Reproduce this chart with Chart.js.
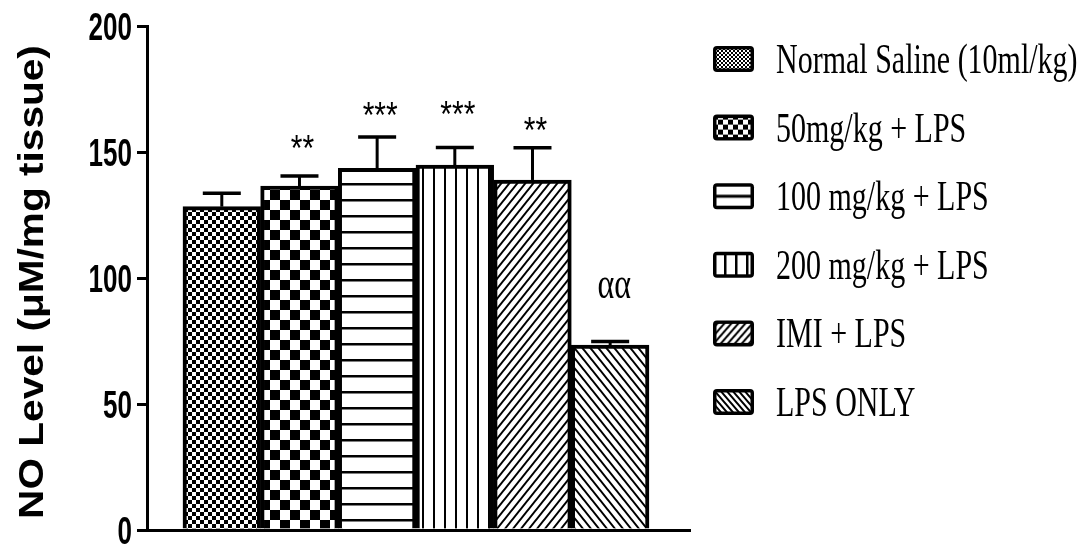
<!DOCTYPE html>
<html>
<head>
<meta charset="utf-8">
<title>NO Level</title>
<script src="https://cdn.jsdelivr.net/npm/chart.js@4.4.1/dist/chart.umd.min.js"></script>
<style>
  html, body { margin: 0; padding: 0; background: #fff; }
  canvas { display: block; }
</style>
</head>
<body>
<canvas id="chart" width="1091" height="544"></canvas>
<script>
// Groups, mean NO level and upper SEM for each group
const categories = ['Normal Saline (10ml/kg)', '50mg/kg + LPS', '100 mg/kg + LPS', '200 mg/kg + LPS', 'IMI + LPS', 'LPS ONLY'];
const noLevel = [128.3, 136.5, 143.5, 144.8, 138.9, 73.4];
const semUpper = [5.3, 4.0, 12.5, 7.0, 12.8, 1.4];
const sigLabels = ['', '**', '***', '***', '**', 'αα'];
const yTicks = [0, 50, 100, 150, 200];
const yTitle = 'NO Level (μM/mg tissue)';

const canvas = document.getElementById('chart');
const ctx = canvas.getContext('2d');

// ---- fill patterns -------------------------------------------------------
function makeTile(w, h, paint) {
  const c = document.createElement('canvas');
  c.width = Math.ceil(w); c.height = Math.ceil(h);
  const g = c.getContext('2d');
  g.fillStyle = '#fff'; g.fillRect(0, 0, c.width, c.height);
  g.fillStyle = '#000'; g.strokeStyle = '#000';
  paint(g, c.width, c.height);
  return ctx.createPattern(c, 'repeat');
}
const checker = cell => makeTile(cell * 2, cell * 2, g => {
  g.fillRect(0, 0, cell, cell); g.fillRect(cell, cell, cell, cell);
});
const hLines = (period, t, off) => makeTile(4, period, (g, w) => g.fillRect(0, off, w, t));
const vLines = (period, t, off) => makeTile(period, 4, (g, w, h) => g.fillRect(off, 0, t, h));
const diag = (w, h, t, up) => makeTile(w, h, g => {
  g.lineWidth = t; g.lineCap = 'butt';
  g.beginPath();
  for (let k = -2; k <= 2; k++) {
    if (up) { g.moveTo(k * w - w, 2 * h); g.lineTo(k * w + 2 * w, -h); }
    else    { g.moveTo(k * w - w, -h);    g.lineTo(k * w + 2 * w, 2 * h); }
  }
  g.stroke();
});

const barPatterns = [
  checker(4),
  checker(10),
  hLines(16, 2.5, 7),
  vLines(11, 2, 4),
  diag(8, 10, 2, true),
  diag(8, 10, 2, false)
];
const legendPatterns = [
  checker(2),
  checker(5),
  hLines(26, 3, 11.5),
  vLines(10.25, 2.5, 0),
  diag(7, 8, 2, true),
  diag(6, 7, 2, false)
];

// ---- error bars + significance marks ------------------------------------
const errorBars = {
  id: 'errorBars',
  afterDatasetsDraw(chart) {
    const c = chart.ctx, ys = chart.scales.y;
    const bars = chart.getDatasetMeta(0).data;
    const lift = [0, 36, 30, 42, 26, 54];
    c.save();
    c.strokeStyle = '#000'; c.fillStyle = '#000';
    bars.forEach((bar, i) => {
      const yTop = ys.getPixelForValue(noLevel[i] + semUpper[i]);
      c.lineWidth = 3;
      c.beginPath(); c.moveTo(bar.x, bar.y); c.lineTo(bar.x, yTop); c.stroke();
      c.lineWidth = 3.5;
      c.beginPath(); c.moveTo(bar.x - 19, yTop); c.lineTo(bar.x + 19, yTop); c.stroke();

      const txt = sigLabels[i];
      if (!txt) return;
      const cy = yTop - lift[i];
      c.save();
      c.textAlign = 'center'; c.textBaseline = 'alphabetic';
      if (txt.startsWith('α')) {
        const size = 32, sy = 1.4;
        c.font = size + 'px "Liberation Serif", "Times New Roman", serif';
        c.translate(bar.x + 4, cy + 0.23 * size * sy);
        c.scale(1, sy);
      } else {
        const size = 30, sy = 1.25;
        c.font = size + 'px "Liberation Sans", Arial, sans-serif';
        c.translate(bar.x + 3, cy + 0.57 * size * sy);
        c.scale(1, sy);
      }
      c.fillText(txt, 0, 0);
      c.restore();
    });
    c.restore();
  }
};

// ---- y tick labels, axis title and legend -------------------------------
const decorations = {
  id: 'decorations',
  afterDraw(chart) {
    const c = chart.ctx, ys = chart.scales.y;
    c.save();
    c.fillStyle = '#000';

    // tick labels (tall, condensed numerals)
    const tSize = 26, tSy = 1.5;
    c.font = 'bold ' + tSize + 'px "Liberation Sans", Arial, sans-serif';
    c.textAlign = 'right'; c.textBaseline = 'alphabetic';
    ys.ticks.forEach(t => {
      const py = ys.getPixelForValue(t.value);
      c.save();
      c.translate(132, py + 0.716 * tSize * tSy / 2);
      c.scale(1, tSy);
      c.fillText(String(t.value), 0, 0);
      c.restore();
    });

    // axis title
    c.save();
    c.font = 'bold 35px "Liberation Sans", Arial, sans-serif';
    c.textAlign = 'center'; c.textBaseline = 'alphabetic';
    c.translate(43, (chart.chartArea.top + chart.chartArea.bottom) / 2 + 4);
    c.rotate(-Math.PI / 2);
    c.scale(1.16, 1);
    c.fillText(yTitle, 0, 0);
    c.restore();

    // legend
    const lx = 713, bw = 41, bh = 26, border = 3.5;
    const textX = 776, lSize = 30, lSy = 1.4;
    categories.forEach((name, i) => {
      const cy = 59 + i * 68.6;
      c.save();
      c.translate(lx, cy - bh / 2);
      c.fillStyle = '#000';
      c.beginPath(); c.roundRect(0, 0, bw, bh, 4); c.fill();
      c.fillStyle = legendPatterns[i];
      c.fillRect(border, border, bw - 2 * border, bh - 2 * border);
      c.restore();

      c.save();
      c.font = lSize + 'px "Liberation Serif", "Times New Roman", serif';
      c.textAlign = 'left'; c.textBaseline = 'alphabetic';
      c.translate(textX, cy + 0.662 * lSize * lSy / 2);
      c.scale(1, lSy);
      c.fillText(name, 0, 0);
      c.restore();
    });
    c.restore();
  }
};

new Chart(canvas, {
  type: 'bar',
  data: {
    datasets: [{
      label: 'NO Level',
      data: noLevel.map((v, i) => ({ x: i, y: v })),
      backgroundColor: barPatterns,
      borderColor: '#000',
      borderWidth: 4,
      borderSkipped: 'start',
      barPercentage: 1,
      categoryPercentage: 1
    }]
  },
  options: {
    responsive: false,
    animation: false,
    devicePixelRatio: 1,
    layout: { padding: { left: 0, top: 26, right: 401, bottom: 14 } },
    plugins: { legend: { display: false }, tooltip: { enabled: false } },
    scales: {
      x: {
        type: 'linear',
        offset: false,
        min: -0.963,
        max: 6.028,
        afterBuildTicks: s => { s.ticks = categories.map((_, i) => ({ value: i })); },
        afterFit: s => { s.height = 0; },
        grid: { display: false, drawTicks: false, offset: false },
        ticks: { display: false },
        border: { display: true, color: '#000', width: 3 }
      },
      y: {
        min: 0,
        max: 200,
        afterBuildTicks: s => { s.ticks = yTicks.map(v => ({ value: v })); },
        afterFit: s => { s.width = 147; },
        ticks: { display: false },
        grid: { drawOnChartArea: false, drawTicks: true, tickLength: 10, color: '#000', lineWidth: 3 },
        border: { display: true, color: '#000', width: 3 }
      }
    }
  },
  plugins: [errorBars, decorations]
});
</script>
</body>
</html>
